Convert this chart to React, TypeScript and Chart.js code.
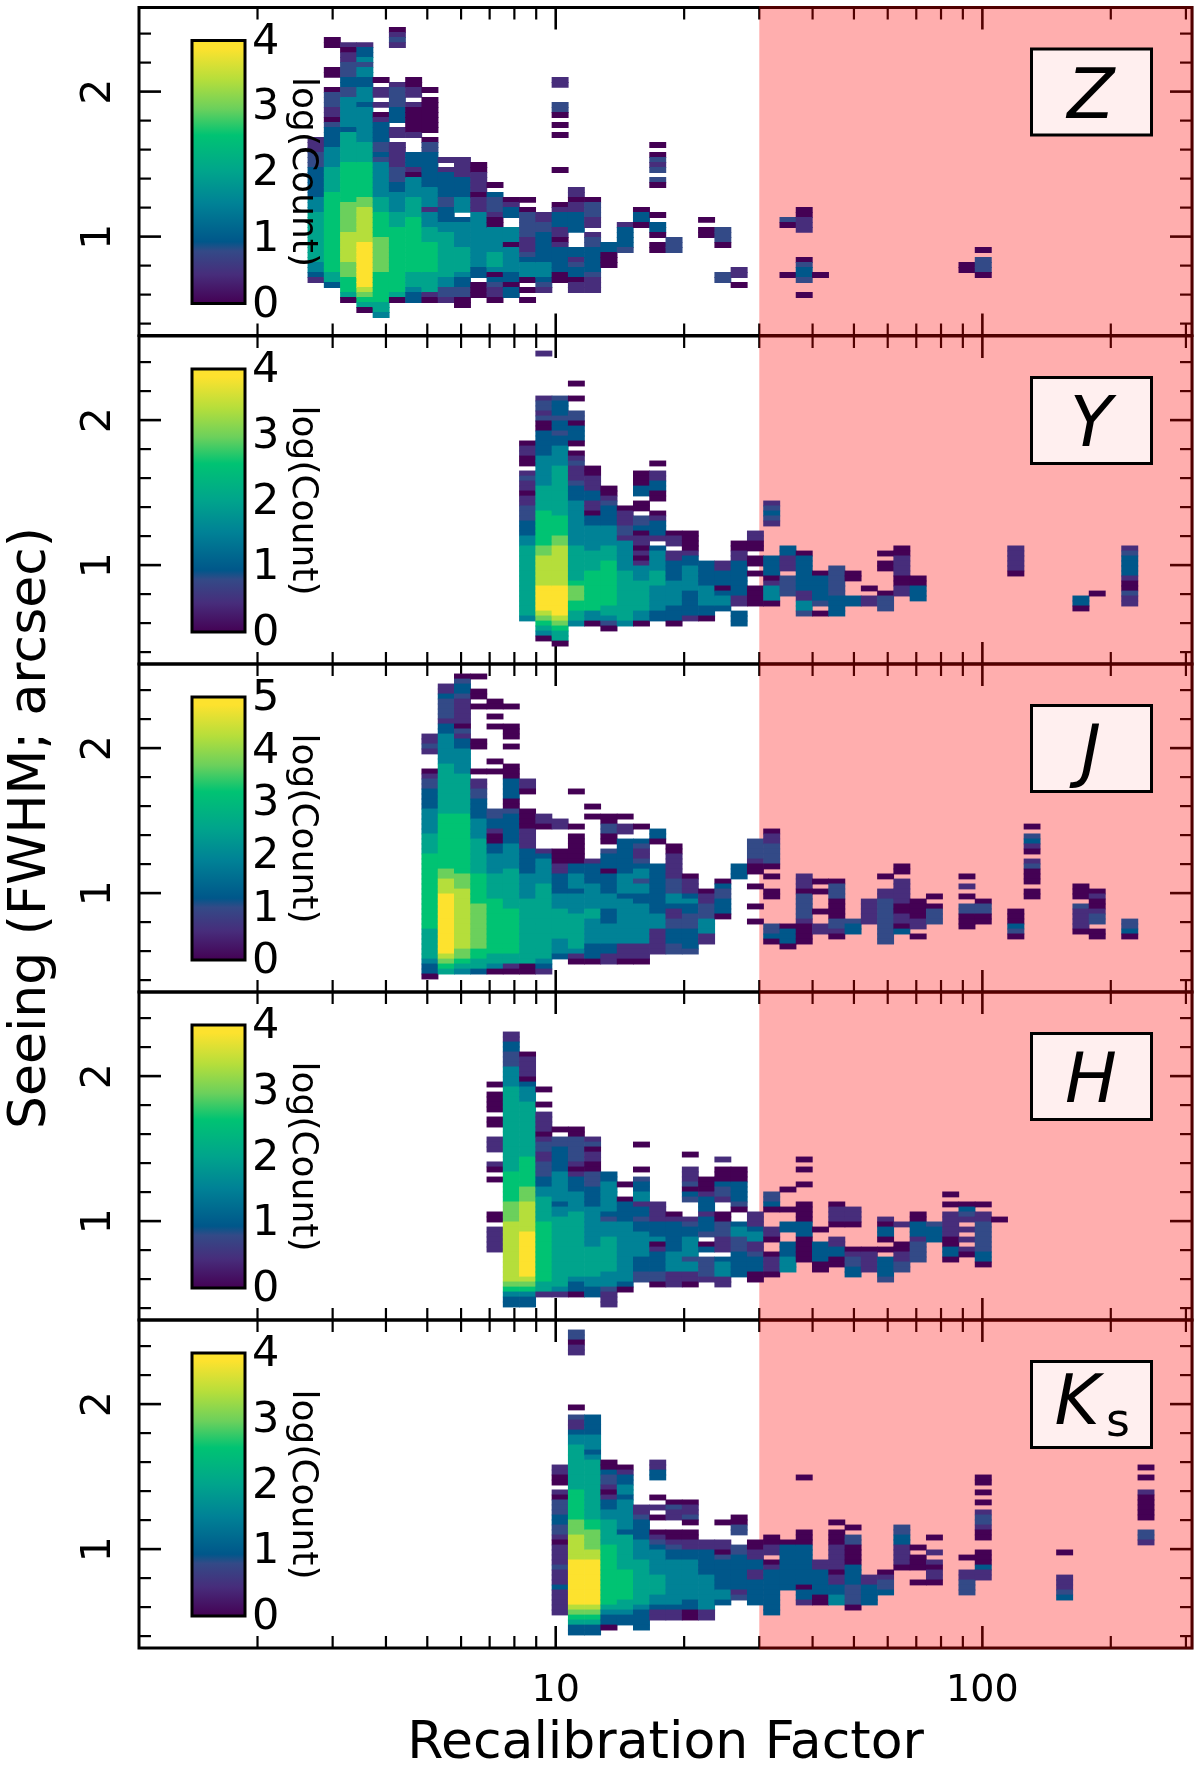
import React, { useEffect, useRef } from "react";
import { Chart, registerables } from "chart.js";

Chart.register(...registerables);

// Bin edges of the recalibration factor (shared by all panels)
const xEdges = [2.625, 2.866, 3.129, 3.416, 3.73, 4.072, 4.446, 4.854, 5.3, 5.786, 6.317, 6.897, 7.53, 8.221, 8.976, 9.8, 10.7, 11.68, 12.75, 13.93, 15.2, 16.6, 18.12, 19.79, 21.6, 23.59, 25.75, 28.12, 30.7, 33.52, 36.59, 39.95, 43.62, 47.63, 52.0, 56.77, 61.98, 67.67, 73.89, 80.67, 88.08, 96.16, 105.0, 114.6, 125.2, 136.6, 149.2, 162.9, 177.9, 194.2, 212.0, 231.5, 252.7, 275.9];
// Centre of each seeing bin, top row first
const yBins = [2.563, 2.528, 2.494, 2.459, 2.425, 2.39, 2.356, 2.321, 2.287, 2.252, 2.218, 2.184, 2.149, 2.115, 2.08, 2.046, 2.011, 1.977, 1.942, 1.908, 1.873, 1.839, 1.804, 1.77, 1.735, 1.701, 1.666, 1.632, 1.597, 1.563, 1.528, 1.494, 1.459, 1.425, 1.391, 1.356, 1.322, 1.287, 1.253, 1.218, 1.184, 1.149, 1.115, 1.08, 1.046, 1.011, 0.977, 0.942, 0.908, 0.873, 0.839, 0.804, 0.77, 0.735, 0.701, 0.666, 0.632, 0.597, 0.563, 0.528, 0.494, 0.459, 0.425, 0.39, 0.356, 0.321];

const xMajor = [10, 100];
const xMinor = [2, 3, 4, 5, 6, 7, 8, 9, 20, 30, 40, 50, 60, 70, 80, 90, 200, 300];
const yMajor = [1, 2];
const yMinor = [0.4, 0.6, 0.8, 1.2, 1.4, 1.6, 1.8, 2.2, 2.4];

// Each entry: [x bin, first y bin, count levels 0-9 going down, "." = empty]
type Col = [number, number, string];
const zColumns: Col[] = [
  [0, 26, "111222333333444555555555" + "54431"],
  [1, 6, "00"], [1, 12, "00"], [1, 16, "0222110233334444555556666666666666666553"],
  [2, 7, "10112223322" + "444444" + "3" + "555555" + "66666666" + "777777" + "888888" + "777" + "666" + "50"],
  [3, 7, "1334244334443" + "4444444" + "5555" + "6666666" + "77" + "8888888" + "999999999" + "8765" + "0"],
  [4, 14, "0"], [4, 16, "11"], [4, 19, "1"], [4, 21, "01"], [4, 23, "3333223244444445556666677777776666665" + "54"],
  [5, 4, "0121"], [5, 15, "12222333.11.11111222334444555666666666666650"],
  [6, 14, "00"], [6, 16, "11"], [6, 19, "1000001"], [6, 29, "333"], [6, 32, "10"], [6, 34, "4444" + "5555" + "66666666666" + "555" + "433"],
  [7, 16, "0"], [7, 18, "0000000"], [7, 26, "022"], [7, 29, "3333333" + "4444" + "1" + "444" + "555" + "666666" + "5555" + "10"],
  [8, 30, "1"], [8, 32, "1" + "33333" + "22" + "333" + "44" + "555555555" + "44" + "22" + "1"],
  [9, 30, "1111" + "333" + "34" + "44" + "." + "34" + "4444" + "55555" + "433" + "22" + "00"],
  [10, 31, "00" + "1111" + "0" + "111" + "44444444444" + "33" + "." + "000"],
  [11, 35, "0"], [11, 37, "3" + "222" + "100" + "444445554" + "0" + "3" + "211" + "0"],
  [12, 38, "0133"], [12, 44, "444"], [12, 47, "0"], [12, 48, "44444"], [12, 53, "33"], [12, 55, "0"], [12, 56, "33"],
  [13, 38, "0"], [13, 40, "0" + "22222" + "111" + "2" + "3" + "444" + "0" + "." + "0"], [13, 58, "0"],
  [14, 41, "11" + "22" + "333333" + "444" + "32" + "1"],
  [15, 14, "11"], [15, 19, "220"], [15, 23, "0"], [15, 25, "0"], [15, 32, "0"], [15, 39, "01" + "333" + "11" + "0" + "1" + "33333" + "00"],
  [16, 36, "1" + "1" + "011" + "3333"], [16, 48, "33" + "123" + "3" + "0" + "11"],
  [17, 38, "0" + "222" + "11" + "." + "122" + "333" + "33" + "2" + "111"],
  [18, 47, "33" + "000"],
  [19, 43, "133332"],
  [20, 40, "0330"],
  [21, 27, "0"], [21, 29, "0"], [21, 30, "212"], [21, 34, "20"], [21, 41, "0"], [21, 43, "330"], [21, 47, "00"],
  [22, 46, "222"],
  [24, 42, "0"], [24, 44, "00"],
  [25, 44, "22"], [25, 46, "20"], [25, 53, "22"],
  [26, 52, "11"], [26, 55, "0"],
  [29, 42, "20"], [29, 53, "0"],
  [30, 40, "00" + "111"], [30, 50, "02332"], [30, 57, "0"],
  [31, 53, "0"],
  [40, 51, "00"],
  [41, 48, "0"], [41, 50, "2220"],
];

const yColumns: Col[] = [
  [13, 21, "01100"], [13, 27, "1211011" + "222" + "333" + "44" + "55555555555555" + "4"],
  [14, 3, "1"], [14, 12, "1221200" + "333334" + "44444" + "55555" + "66666" + "6677" + "888888" + "999998" + "76540"],
  [15, 12, "2333233233" + "4444" + "5555555555" + "6666" + "77" + "88888888" + "999999" + "87" + "6" + "55" + "0"],
  [16, 9, "0"], [16, 12, "0"], [16, 15, "220333" + "0"], [16, 23, "012" + "1112" + "333" + "444444444" + "5555555" + "6777" + "6655" + "4"],
  [17, 26, "00111" + "33" + "11" + "0" + "33" + "44444" + "5555" + "66666666" + "44" + "0"],
  [18, 30, "00" + "1" + "2" + "3333" + "4444" + "555" + "666666666" + "554" + "2" + "0"],
  [19, 34, "0" + "111" + "22" + "1" + "4" + "44444" + "5555555555" + "4"],
  [20, 27, "00033"], [20, 33, "00"], [20, 36, "223" + "0" + "11" + "0" + "1" + "0" + "1" + "444" + "555555" + "44" + "0"],
  [21, 25, "0"], [21, 27, "11"], [21, 29, "33"], [21, 31, "00"], [21, 35, "01333" + "1" + "." + "3" + "4444" + "555" + "44444" + "33"],
  [22, 39, "011"], [22, 43, "11" + "3333" + "44444" + "333" + "0"],
  [23, 39, "0000" + "13" + "344" + "444" + "33333" + "1"],
  [24, 45, "33333" + "4444" + "33" + "0"],
  [25, 45, "1133303443"],
  [26, 41, "0011"], [26, 45, "3333333" + "11" + "." + "333"],
  [27, 39, "1100"], [27, 44, "00"], [27, 47, "0"], [27, 50, "0000"],
  [28, 33, "12321"], [28, 44, "3333"], [28, 48, "01"], [28, 50, "4440"],
  [29, 42, "33" + "111" + "." + "2222"],
  [30, 43, "0" + "3333333" + "11" + "44" + "2"],
  [31, 47, "0" + "33333" + "2" + "." + "0"],
  [32, 46, "22222"], [32, 51, "2"], [32, 52, "3333"],
  [33, 47, "00"], [33, 52, "33"],
  [34, 50, "0"], [34, 52, "11"],
  [35, 43, "0"], [35, 45, "00"], [35, 51, "0"], [35, 52, "222"],
  [36, 42, "0011110011"],
  [37, 48, "00333"],
  [43, 42, "111110"],
  [47, 52, "330"],
  [48, 51, "0"],
  [50, 42, "123333100211"],
];

const jColumns: Col[] = [
  [7, 14, "1121"], [7, 21, "01223333" + "44444" + "5555" + "6666666666" + "6666655555" + "54" + "33" + "0"],
  [8, 4, "1132222133" + "44444" + "4555555555" + "56666666" + "666677" + "888" + "999999999999" + "87" + "65"],
  [9, 2, "0" + "2" + "33" + "2" + "11111" + "0" + "2" + "1" + "33" + "44444" + "55555555" + "666666666666" + "777" + "8888888888" + "887" + "76" + "54"],
  [10, 2, "0"], [10, 5, "00"], [10, 8, "0"], [10, 15, "00"], [10, 21, "0"], [10, 23, "11223333" + "4444" + "5555555" + "666666" + "777777777" + "66" + "55" + "3"],
  [11, 7, "00"], [11, 10, "0"], [11, 12, "0"], [11, 19, "0"], [11, 21, "0"], [11, 29, "22" + "33" + "100" + "334444" + "55555" + "66666666666" + "55" + "4" + "0"],
  [12, 8, "0"], [12, 12, "000"], [12, 16, "0"], [12, 20, "000"], [12, 23, "3333"], [12, 27, "00"], [12, 29, "2" + "333333" + "44444" + "55555555" + "666666666" + "55" + "10"],
  [13, 23, "110"], [13, 29, "0000"], [13, 33, "1111" + "33333" + "44444" + "5555555555555" + "00"],
  [14, 30, "110"], [14, 37, "13" + "44444" + "555555555555" + "555" + "43" + "1"],
  [15, 31, "11"], [15, 37, "00011" + "3333" + "4445555" + "55444" + "3"],
  [16, 25, "0"], [16, 32, "0"], [16, 34, "000000" + "33" + "444" + "3" + "4444" + "5555555" + "4" + "1" + "0"],
  [17, 28, "0"], [17, 30, "0"], [17, 39, "13333" + "44444" + "5544444" + "33" + "3" + "0"],
  [18, 30, "002200"], [18, 37, "2333" + "0" + "3333444" + "333" + "44443" + "3" + "11"],
  [19, 30, "0"], [19, 32, "11"], [19, 35, "3333333" + "44443444444444" + "111" + "0"],
  [20, 32, "0"], [20, 35, "32112" + "344" + "2" + "44" + "33" + "44444444" + "111" + "0"],
  [21, 33, "330"], [21, 40, "33333333" + "33444" + "1111" + "1"],
  [22, 36, "0011111" + "222" + "44" + "3" + "11" + "22" + "333" + "22"],
  [23, 42, "0111343322233332"],
  [24, 45, "011" + "222" + "444" + "11"],
  [25, 43, "0322" + "333" + "0"],
  [26, 40, "333"],
  [27, 35, "2222100"], [27, 44, "0"], [27, 48, "0"], [27, 51, "0"],
  [28, 33, "01122220"], [28, 42, "0"], [28, 45, "00"], [28, 52, "2230"],
  [29, 52, "03330"],
  [30, 42, "1110" + "22222" + "1" + "0000"],
  [31, 43, "0"], [31, 45, "0"], [31, 49, "0"], [31, 52, "11"],
  [32, 43, "02220000" + "2" + "2" + "1" + "0"],
  [33, 51, "233"],
  [34, 47, "11111"],
  [35, 42, "0"], [35, 45, "11222222222"],
  [36, 40, "00"], [36, 43, "11111" + "00" + "11" + "0" + "3"],
  [37, 47, "000011"], [37, 54, "0"],
  [38, 46, "0"], [38, 48, "0222"],
  [40, 42, "0"], [40, 44, "1"], [40, 46, "0"], [40, 48, "22000"],
  [41, 47, "02200"],
  [43, 49, "000320"],
  [44, 32, "0"], [44, 34, "2310"], [44, 39, "12000"], [44, 45, "00"],
  [47, 44, "000"], [47, 48, "211110"],
  [48, 45, "0100122"], [48, 53, "00"],
  [50, 51, "2230"],
];

const hColumns: Col[] = [
  [11, 18, "0"], [11, 20, "0000"], [11, 25, "00"], [11, 29, "111"], [11, 34, "10"], [11, 37, "0"], [11, 44, "00"], [11, 47, "11111"],
  [12, 8, "11332224444" + "555555555555555" + "55666666" + "7777" + "888888888888" + "76433"],
  [13, 12, "011110" + "3444" + "55555555555" + "666666" + "777" + "888888" + "999999999" + "87" + "6433"],
  [14, 19, "0"], [14, 22, "0"], [14, 24, "1111" + "0122" + "11222" + "3344" + "55555" + "66666666666" + "655" + "1"],
  [15, 27, "0"], [15, 29, "22333" + "334" + "44444" + "3" + "44" + "55555555" + "555555" + "4" + "1"],
  [16, 27, "00222221"], [16, 35, "01333" + "4444" + "55555555555" + "5543" + "3" + "0"],
  [17, 29, "12011002223333" + "44444444" + "555555" + "44" + "33"],
  [18, 36, "33444444" + "3" + "2" + "4445555" + "55544" + "4" + "2" + "111"],
  [19, 38, "0"], [19, 41, "03333" + "444444444444" + "3" + "0"],
  [20, 30, "0"], [20, 35, "0"], [20, 37, "233441332" + "33" + "4444" + "4333" + "22"],
  [21, 42, "1111" + "3334" + "0" + "1" + "3333" + "22" + "0"],
  [22, 44, "01333333" + "4444" + "11" + "1"],
  [23, 32, "0"], [23, 35, "1112"], [23, 39, "032"], [23, 45, "1233" + "4444" + "2" + "44" + "11" + "0"],
  [24, 37, "000" + "1" + "333" + "1" + "333" + "2" + "." + "0" + "3" + "." + "2222" + "1"],
  [25, 33, "1"], [25, 35, "000"], [25, 38, "3221"], [25, 44, "00"], [25, 46, "222" + "11" + "1" + "." + "3444" + "11"],
  [26, 35, "000"], [26, 38, "33332"], [26, 43, "0"], [26, 46, "344" + "2223" + "3333"],
  [27, 44, "111344" + "112333" + "00"],
  [28, 40, "2230"], [28, 47, "110"], [28, 52, "01110"],
  [29, 39, "0"], [29, 43, "0"], [29, 46, "33"], [29, 50, "333444"],
  [30, 33, "0"], [30, 35, "0"], [30, 38, "0"], [30, 42, "0000"], [30, 46, "333" + "00000"],
  [31, 47, "0"], [31, 50, "333300"],
  [32, 42, "0111"], [32, 46, "0"], [32, 49, "113300"],
  [33, 43, "111"], [33, 46, "0"], [33, 51, "012233"],
  [34, 51, "01111"],
  [35, 45, "1033"], [35, 49, "0"], [35, 51, "0"], [35, 53, "33332"],
  [36, 46, "1"], [36, 50, "001122"],
  [37, 44, "003331"], [37, 50, "2222"],
  [38, 46, "2333"],
  [39, 40, "0"], [39, 42, "0"], [39, 44, "1111100"], [39, 51, "330"],
  [40, 42, "032"], [40, 45, "1"], [40, 47, "1"], [40, 49, "1"], [40, 51, "10"],
  [41, 42, "0"], [41, 44, "1122222233"], [41, 54, "0"],
  [42, 45, "0"],
];

const kColumns: Col[] = [
  [15, 29, "1100"], [15, 34, "1022233221011112111311111"],
  [16, 2, "22011"], [16, 17, "0"], [16, 19, "2113" + "44" + "555555555" + "666666" + "7778" + "8888" + "999999999" + "87653" + "3"],
  [17, 19, "3333" + "444" + "3" + "4" + "5" + "55555555555" + "6677" + "7788" + "999999999" + "87" + "6" + "5" + "33"],
  [18, 28, "00" + "3" + "22" + "1" + "0" + "1" + "3344" + "55555" + "6666666666" + "665" + "433" + "0"],
  [19, 29, "01" + "33" + "44" + "3" + "4444" + "44" + "3" + "5555" + "555666666" + "55" + "43" + "3"],
  [20, 37, "112333" + "34444" + "555555555" + "4" + "33" + "33"],
  [21, 28, "1133"], [21, 35, "0"], [21, 37, "1"], [21, 39, "0"], [21, 42, "0123" + "4444455" + "5544" + "3" + "11"],
  [22, 36, "0211"], [22, 42, "00123" + "344444444" + "4" + "3" + "11"],
  [23, 36, "01120"], [23, 42, "001133" + "44444444" + "33" + "00"],
  [24, 44, "11" + "33333" + "444444" + "4" + "11"],
  [25, 40, "0"], [25, 44, "1102333333" + "443"],
  [26, 39, "0022"], [26, 45, "223333333" + "12"],
  [27, 44, "0011" + "33" + "11" + "33333"],
  [28, 43, "001"], [28, 46, "1"], [28, 48, "01" + "33333" + "3333"],
  [29, 44, "0" + "333333" + "333"],
  [30, 31, "0"], [30, 42, "000" + "33333333" + "0" + "331"],
  [31, 48, "11" + "33333"], [31, 55, "00"],
  [32, 40, "0"], [32, 42, "00"], [32, 44, "011111"], [32, 50, "0" + "113344"],
  [33, 41, "0"], [33, 43, "22" + "0000" + "33332222" + "0"],
  [34, 51, "11" + "3333"],
  [35, 50, "01223"],
  [36, 41, "2233" + "1" + "111" + "0"],
  [37, 45, "0"], [37, 47, "000"], [37, 52, "0"],
  [38, 43, "0"], [38, 46, "1"], [38, 48, "10110"],
  [40, 47, "0"], [40, 50, "11222"],
  [41, 31, "00"], [41, 34, "0"], [41, 36, "0"], [41, 38, "122100"], [41, 46, "000" + "3" + "11"],
  [46, 46, "0"], [46, 51, "11123"],
  [51, 29, "0"], [51, 31, "0"], [51, 34, "100000"], [51, 42, "221"],
];

const levelColors = ["#440154", "#472D7B", "#334A87", "#00578A", "#008296", "#00A48C", "#00C373", "#6BD05C", "#B5DE3B", "#FDE22E"];
const barStops = [0, 0.11, 0.2, 0.235, 0.38, 0.5, 0.64, 0.74, 0.85, 0.97];

const panelTops = [7.5, 336, 664, 992, 1320];
const panelNames = ["Z", "Y", "J", "H", "K"];
const panelColumns = [zColumns, yColumns, jColumns, hColumns, kColumns];
const panelMax = [4, 4, 5, 4, 4];

const FONT = '"DejaVu Sans"';
const PANEL_H = 328;
const RIGHT = 1192;

function Panel({ index }: { index: number }) {
  const ref = useRef<HTMLCanvasElement>(null);
  useEffect(() => {
    const top = panelTops[index];
    const isLast = index === panelTops.length - 1;
    const vmax = panelMax[index];
    const data: { x: [number, number]; y: number }[] = [];
    const colors: string[] = [];
    for (const [c, r, levels] of panelColumns[index]) {
      for (let i = 0; i < levels.length; i++) {
        if (levels[i] === ".") continue;
        const lv = Number(levels[i]);
        data.push({ x: [xEdges[c], xEdges[c + 1]], y: yBins[r + i] });
        colors.push(levelColors[lv]);
      }
    }
    const underlay = {
      id: "underlay",
      beforeDatasetsDraw(chart: any) {
        const { ctx, chartArea: a, scales } = chart;
        ctx.save();
        ctx.strokeStyle = "#000";
        ctx.lineCap = "butt";
        ctx.lineWidth = 3;
        ctx.strokeRect(a.left, a.top, a.right - a.left, a.bottom - a.top);
        const tick = (x1: number, y1: number, x2: number, y2: number, w: number) => {
          ctx.lineWidth = w;
          ctx.beginPath();
          ctx.moveTo(x1, y1);
          ctx.lineTo(x2, y2);
          ctx.stroke();
        };
        const xt = (vals: number[], len: number, w: number) => vals.forEach((v) => {
          const p = scales.x.getPixelForValue(v);
          tick(p, a.top, p, a.top + len, w);
          tick(p, a.bottom, p, a.bottom - len, w);
        });
        const yt = (vals: number[], len: number, w: number) => vals.forEach((v) => {
          const p = scales.y.getPixelForValue(v);
          tick(a.left, p, a.left + len, p, w);
          tick(a.right, p, a.right - len, p, w);
        });
        xt(xMajor, 22, 2.6); xt(xMinor, 12, 2.2); yt(yMajor, 22, 2.6); yt(yMinor, 12, 2.2);
        const p30 = scales.x.getPixelForValue(30);
        ctx.fillStyle = "rgba(255,0,0,0.318)";
        ctx.fillRect(p30, a.top - 1.5, a.right + 1.5 - p30, a.bottom - a.top + 3);
        ctx.restore();
      },
    };
    const overlay = {
      id: "overlay",
      afterDatasetsDraw(chart: any) {
        const { ctx, chartArea: a, scales } = chart;
        ctx.save();
        ctx.fillStyle = "#000";
        ctx.textBaseline = "middle";
        // rotated y tick labels
        ctx.textAlign = "center";
        ctx.font = `41px ${FONT}`;
        yMajor.forEach((v) => {
          ctx.save();
          ctx.translate(99, scales.y.getPixelForValue(v));
          ctx.rotate(-Math.PI / 2);
          ctx.fillText(String(v), 0, 0);
          ctx.restore();
        });
        // colour bar
        const bx = 192, bw = 53, by = a.top + 33, bh = 263;
        const g = ctx.createLinearGradient(0, by + bh, 0, by);
        levelColors.forEach((col, i) => g.addColorStop(barStops[i], col));
        g.addColorStop(1, levelColors[9]);
        ctx.fillStyle = g;
        ctx.fillRect(bx, by, bw, bh);
        ctx.strokeStyle = "#000";
        ctx.lineWidth = 3;
        ctx.strokeRect(bx, by, bw, bh);
        ctx.fillStyle = "#000";
        ctx.textAlign = "left";
        ctx.font = `43px ${FONT}`;
        for (let v = 0; v <= vmax; v++) {
          ctx.fillText(String(v), 252, by + bh - (bh * v) / vmax + 2);
        }
        ctx.save();
        ctx.translate(302, by + bh / 2);
        ctx.rotate(Math.PI / 2);
        ctx.textAlign = "center";
        ctx.font = `36px ${FONT}`;
        ctx.fillText("log(Count)", 0, 0);
        ctx.restore();
        // band label
        const lx = 1031.5, lw = 120, ly = a.top + 41.5, lh = 86;
        ctx.fillStyle = "rgba(255,255,255,0.8)";
        ctx.fillRect(lx, ly, lw, lh);
        ctx.strokeStyle = "#000";
        ctx.lineWidth = 3;
        ctx.strokeRect(lx, ly, lw, lh);
        ctx.fillStyle = "#000";
        ctx.textBaseline = "alphabetic";
        ctx.textAlign = "center";
        const name = panelNames[index];
        ctx.font = `italic 69px ${FONT}`;
        if (name === "K") {
          ctx.fillText("K", 1077, a.top + 104);
          ctx.font = `46px ${FONT}`;
          ctx.fillText("s", 1118, a.top + 115.5);
        } else {
          ctx.fillText(name, 1091, a.top + 110);
        }
        ctx.restore();
      },
    };
    const chart = new Chart(ref.current as HTMLCanvasElement, {
      type: "bar",
      data: {
        datasets: [{ data: data as any, backgroundColor: colors, borderWidth: 0, barThickness: 5.2, grouped: false } as any],
      },
      plugins: [underlay, overlay],
      options: {
        animation: false,
        responsive: false,
        devicePixelRatio: 1,
        indexAxis: "y",
        layout: { padding: { top, bottom: isLast ? 0 : 1770 - top - PANEL_H, left: 0, right: 1200 - RIGHT } },
        plugins: { legend: { display: false }, tooltip: { enabled: false } },
        scales: {
          x: {
            type: "logarithmic",
            position: "bottom",
            min: 1.055,
            max: 310,
            grid: { display: false, drawTicks: false },
            border: { display: false },
            afterBuildTicks: (s: any) => { s.ticks = xMajor.map((value) => ({ value })); },
            afterFit: (s: any) => { s.height = isLast ? 122 : 0; },
            ticks: {
              display: isLast,
              autoSkip: false,
              maxRotation: 0,
              padding: 20,
              color: "#000",
              font: { family: "DejaVu Sans", size: 38 },
              callback: (v: any) => String(v),
            },
            title: {
              display: isLast,
              text: "Recalibration Factor",
              color: "#000",
              font: { family: "DejaVu Sans", size: 52, lineHeight: 1 },
              padding: 0,
            },
          },
          y: {
            type: "linear",
            position: "left",
            offset: false,
            min: 0.318,
            max: 2.58,
            grid: { display: false, drawTicks: false },
            border: { display: false },
            ticks: { display: false },
            afterFit: (s: any) => { s.width = 139; },
            title: {
              display: index === 2,
              text: "Seeing (FWHM; arcsec)",
              color: "#000",
              font: { family: "DejaVu Sans", size: 52 },
              padding: 0,
            },
          },
        },
      } as any,
    });
    return () => chart.destroy();
  }, [index]);
  return (
    <canvas
      ref={ref}
      width={1200}
      height={1770}
      style={{ position: "absolute", left: 0, top: 0, width: 1200, height: 1770 }}
    />
  );
}

export default function App() {
  useEffect(() => {
    document.body.style.margin = "0";
    document.body.style.background = "#fff";
  }, []);
  return (
    <div style={{ position: "relative", width: 1200, height: 1770, overflow: "hidden" }}>
      {panelTops.map((_, i) => (
        <Panel key={i} index={i} />
      ))}
    </div>
  );
}
